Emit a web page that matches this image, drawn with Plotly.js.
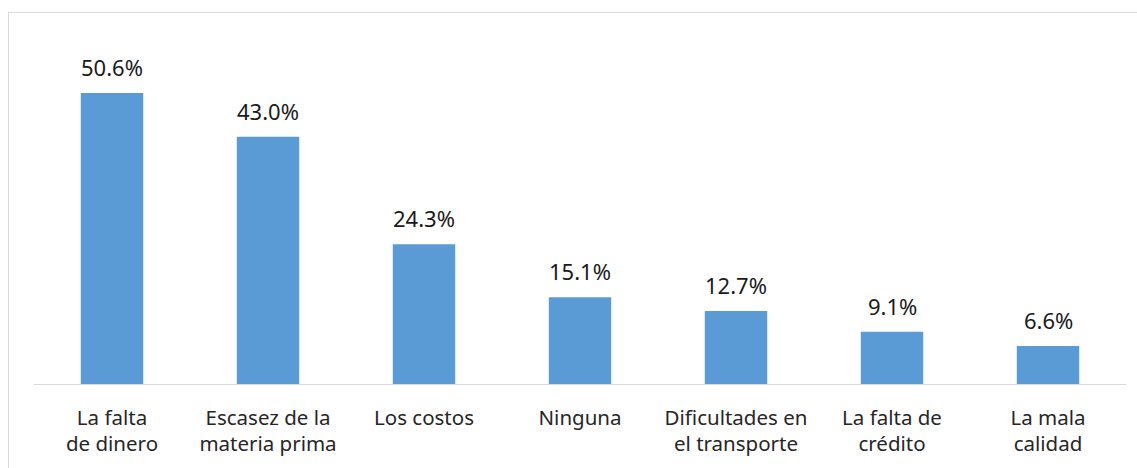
<!DOCTYPE html>
<html>
<head>
<meta charset="utf-8">
<script src="https://cdn.plot.ly/plotly-3.0.1.min.js"></script>
<style>
  body { margin: 0; background: #fff; overflow: hidden; }
  #plot { position: absolute; left: 0; top: 0; width: 1137px; height: 468px; }
  #frame { position: absolute; left: 8px; top: 12px; width: 1140px; height: 480px;
           border: 1px solid #d9d9d9; pointer-events: none; }
</style>
</head>
<body>
<div id="plot"></div>
<div id="frame"></div>
<script>
const categories = [
    "La falta<br>de dinero",
    "Escasez de la<br>materia prima",
    "Los costos",
    "Ninguna",
    "Dificultades en<br>el transporte",
    "La falta de<br>crédito",
    "La mala<br>calidad"
];
const values = [50.6, 43.0, 24.3, 15.1, 12.7, 9.1, 6.6];

const tickFont = { family: "Noto Sans, sans-serif", size: 20.5, color: "#262626" };
const labelFont = { family: "Noto Sans, sans-serif", size: 22, color: "#1a1a1a" };

const data = [{
    type: "bar",
    x: categories,
    y: values,
    marker: { color: "#5b9bd5" },
    hoverinfo: "none"
}];

// value labels above each bar
const annotations = categories.map((c, i) => ({
    x: c,
    y: values[i],
    text: values[i].toFixed(1) + "%",
    showarrow: false,
    yanchor: "bottom",
    yshift: 9,
    font: labelFont
}));

const layout = {
    width: 1137,
    height: 468,
    margin: { l: 34, r: 11, t: 39, b: 84 },
    paper_bgcolor: "rgba(0,0,0,0)",
    plot_bgcolor: "rgba(0,0,0,0)",
    bargap: 0.6,
    showlegend: false,
    xaxis: {
        type: "category",
        showgrid: false,
        showline: true,
        linecolor: "#d9d9d9",
        linewidth: 1,
        ticks: "",
        tickfont: tickFont,
        ticklabelstandoff: 15
    },
    yaxis: {
        range: [0, 60],
        visible: false,
        showgrid: false,
        zeroline: false
    },
    annotations: annotations
};

Plotly.newPlot("plot", data, layout, { staticPlot: true });
</script>
</body>
</html>
